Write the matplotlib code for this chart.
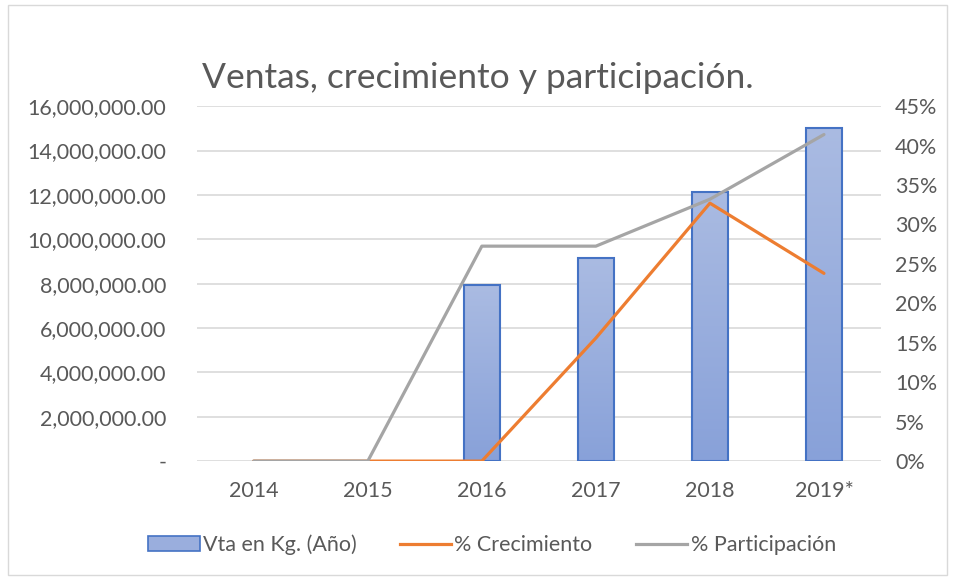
import numpy as np
import matplotlib
matplotlib.use("Agg")
import matplotlib.pyplot as plt
import matplotlib.ticker as mticker
from matplotlib.patches import Rectangle
from matplotlib.lines import Line2D

plt.rcParams["font.family"] = ["Lato", "DejaVu Sans"]

# ---------------------------------------------------------
# Data
# ---------------------------------------------------------
years = ["2014", "2015", "2016", "2017", "2018", "2019*"]
ventas_kg = [0, 0, 7930000, 9150000, 12150000, 15000000]
crecimiento = [0.0, 0.0, 0.0, 0.156, 0.327, 0.238]
participacion = [0.0, 0.0, 0.2725, 0.2725, 0.332, 0.414]

TXT = "#595959"
GRID = "#D9D9D9"

fig = plt.figure(figsize=(9.55, 5.8), dpi=100)
fig.patches.append(Rectangle((0.008, 0.008), 0.984, 0.984, transform=fig.transFigure,
                             fill=False, edgecolor="#D9D9D9", linewidth=1))
ax = fig.add_axes([0.206, 0.205, 0.7165, 0.612])
ax2 = ax.twinx()

x = np.arange(len(years))
w = 0.32

# bars with vertical gradient
grad = np.linspace(0, 1, 256).reshape(-1, 1)
cmap = matplotlib.colors.LinearSegmentedColormap.from_list("g", ["#88A1D9", "#AABBE2"])
for xi, v in zip(x, ventas_kg):
    if v <= 0:
        continue
    ax.imshow(grad, extent=(xi - w / 2, xi + w / 2, 0, v), origin="lower",
              aspect="auto", cmap=cmap, zorder=2)
    ax.add_patch(Rectangle((xi - w / 2, 0), w, v, fill=False,
                           edgecolor="#4472C4", linewidth=1.5, zorder=3))

ax.set_xlim(-0.5, len(years) - 0.5)
ax.set_ylim(0, 16000000)
ax.yaxis.set_major_locator(mticker.MultipleLocator(2000000))
ax.yaxis.set_major_formatter(mticker.FuncFormatter(
    lambda v, p: "-" if v == 0 else f"{v:,.2f}"))
ax.grid(axis="y", color=GRID, linewidth=1.2, zorder=0)
ax.set_axisbelow(True)
ax.set_xticks(x)
ax.set_xticklabels(years)

ax2.plot(x, crecimiento, color="#ED7D31", linewidth=2.3, zorder=4, solid_capstyle="round")
ax2.plot(x, participacion, color="#A5A5A5", linewidth=2.3, zorder=4, solid_capstyle="round")
ax2.set_ylim(0, 0.45)
ax2.yaxis.set_major_locator(mticker.MultipleLocator(0.05))
ax2.yaxis.set_major_formatter(mticker.FuncFormatter(lambda v, p: f"{v * 100:.0f}%"))

for a in (ax, ax2):
    for s in a.spines.values():
        s.set_visible(False)
    a.tick_params(length=0, labelsize=15.5, colors=TXT)
ax.tick_params(axis="y", pad=22)
ax.tick_params(axis="x", pad=14)
ax2.tick_params(axis="y", pad=10)

fig.text(0.5, 0.866, "Ventas, crecimiento y participación.", ha="center", va="center",
         fontsize=25.5, color=TXT)

handles = [
    Rectangle((0, 0), 1, 1, facecolor="#9AAEDD", edgecolor="#4472C4", linewidth=1.2),
    Line2D([0], [0], color="#ED7D31", linewidth=2.3),
    Line2D([0], [0], color="#A5A5A5", linewidth=2.3),
]
labels = ["Vta en Kg. (Año)", "% Crecimiento", "% Participación"]
fig.legend(handles, labels, loc="center", bbox_to_anchor=(0.515, 0.06), ncol=3,
           frameon=False, fontsize=15.5, labelcolor=TXT, handlelength=2.4,
           handletextpad=0.15, columnspacing=2.0)

fig.savefig("out.png", dpi=100)
